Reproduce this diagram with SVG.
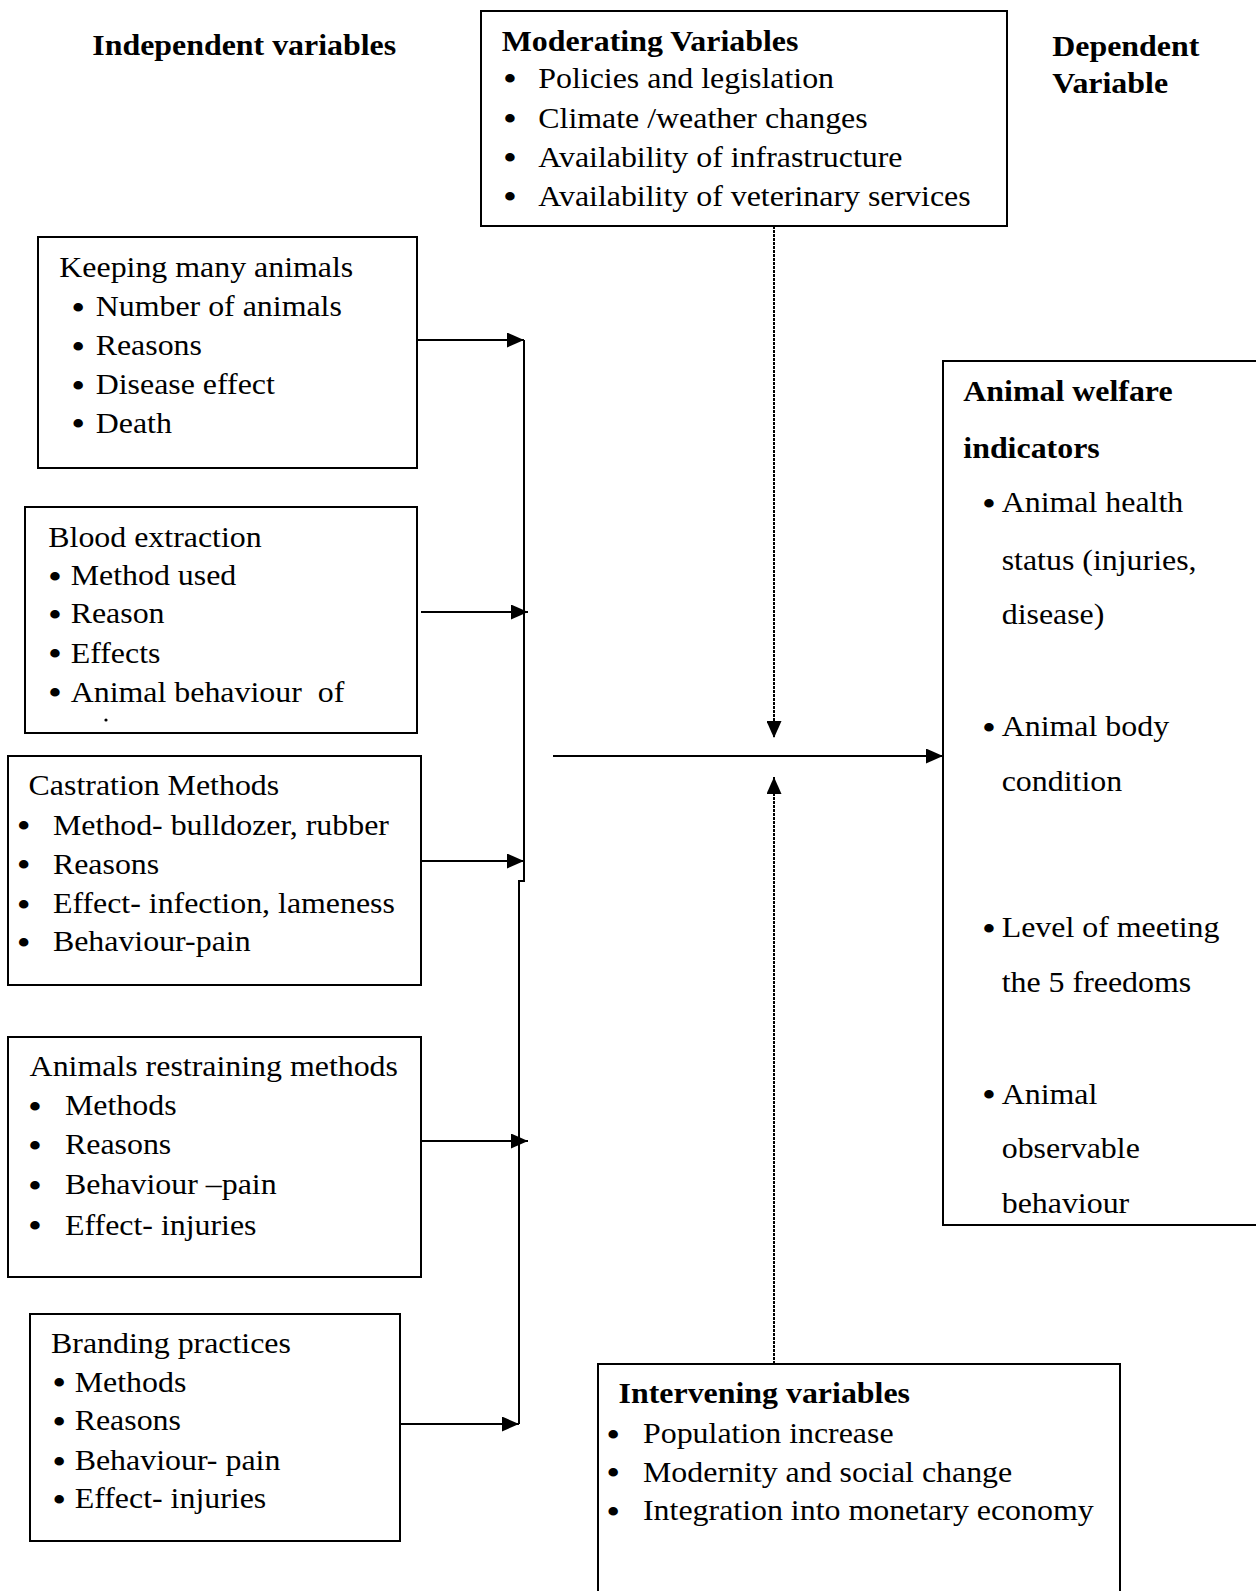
<svg xmlns="http://www.w3.org/2000/svg" width="1256" height="1591" viewBox="0 0 1256 1591">
<style>
.box{fill:none;stroke:#000;stroke-width:2}
.t{font-family:"Liberation Serif","Times New Roman",serif;font-size:29px;fill:#000}
.b{font-weight:bold}
.bl{text-anchor:middle;font-size:36px}
.conn{fill:none;stroke:#000;stroke-width:2}
.dot{stroke-dasharray:3 1}
</style>
<defs>
<marker id="ah" markerUnits="userSpaceOnUse" markerWidth="17" markerHeight="15" refX="17" refY="7.5" orient="auto">
<path d="M0,0 L17,7.5 L0,15 z" fill="#000"/>
</marker>
</defs>
<rect width="1256" height="1591" fill="#fff"/>

<g id="heading-independent">
<text class="t b" transform="matrix(1.1 0 0 1 92.3 55)">Independent variables</text>
</g>
<g id="heading-dependent">
<text class="t b" transform="matrix(1.1 0 0 1 1052.3 55.7)">Dependent</text>
<text class="t b" transform="matrix(1.1 0 0 1 1052.3 93.3)">Variable</text>
</g>

<g id="moderating">
<rect class="box" x="481" y="11" width="526" height="215"/>
<text class="t b" transform="matrix(1.1 0 0 1 501.7 50.5)">Moderating Variables</text>
<text class="t bl" transform="matrix(1.1 0 0 1 510 91)">•</text>
<text class="t" transform="matrix(1.1 0 0 1 538.3 87.5)">Policies and legislation</text>
<text class="t bl" transform="matrix(1.1 0 0 1 510 131)">•</text>
<text class="t" transform="matrix(1.1 0 0 1 538.3 127.5)">Climate /weather changes</text>
<text class="t bl" transform="matrix(1.1 0 0 1 510 170)">•</text>
<text class="t" transform="matrix(1.1 0 0 1 538.3 166.5)">Availability of infrastructure</text>
<text class="t bl" transform="matrix(1.1 0 0 1 510 209)">•</text>
<text class="t" transform="matrix(1.1 0 0 1 538.3 205.5)">Availability of veterinary services</text>
</g>

<g id="keeping">
<rect class="box" x="38" y="237" width="379" height="231"/>
<text class="t" transform="matrix(1.1 0 0 1 59.3 276.7)">Keeping many animals</text>
<text class="t bl" transform="matrix(1.1 0 0 1 78.3 319.5)">•</text>
<text class="t" transform="matrix(1.1 0 0 1 95.7 316)">Number of animals</text>
<text class="t bl" transform="matrix(1.1 0 0 1 78.3 358.5)">•</text>
<text class="t" transform="matrix(1.1 0 0 1 95.7 355)">Reasons</text>
<text class="t bl" transform="matrix(1.1 0 0 1 78.3 397.8)">•</text>
<text class="t" transform="matrix(1.1 0 0 1 95.7 394.3)">Disease effect</text>
<text class="t bl" transform="matrix(1.1 0 0 1 78.3 436.2)">•</text>
<text class="t" transform="matrix(1.1 0 0 1 95.7 432.7)">Death</text>
</g>

<g id="blood">
<rect class="box" x="25" y="507" width="392" height="226"/>
<text class="t" transform="matrix(1.1 0 0 1 48.3 546.7)">Blood extraction</text>
<text class="t bl" transform="matrix(1.1 0 0 1 55 588.5)">•</text>
<text class="t" transform="matrix(1.1 0 0 1 70.7 585)">Method used</text>
<text class="t bl" transform="matrix(1.1 0 0 1 55 626.8)">•</text>
<text class="t" transform="matrix(1.1 0 0 1 70.7 623.3)">Reason</text>
<text class="t bl" transform="matrix(1.1 0 0 1 55 666.2)">•</text>
<text class="t" transform="matrix(1.1 0 0 1 70.7 662.7)">Effects</text>
<text class="t bl" transform="matrix(1.1 0 0 1 55 705.2)">•</text>
<text class="t" xml:space="preserve" transform="matrix(1.1 0 0 1 70.7 701.7)">Animal behaviour  of</text>
<circle cx="106" cy="720" r="1.6" fill="#000"/>
</g>

<g id="castration">
<rect class="box" x="8" y="756" width="413" height="229"/>
<text class="t" transform="matrix(1.1 0 0 1 28.6 795.4)">Castration Methods</text>
<text class="t bl" transform="matrix(1.1 0 0 1 23.6 838.1)">•</text>
<text class="t" transform="matrix(1.1 0 0 1 52.9 834.6)">Method- bulldozer, rubber</text>
<text class="t bl" transform="matrix(1.1 0 0 1 23.6 877.4)">•</text>
<text class="t" transform="matrix(1.1 0 0 1 52.9 873.9)">Reasons</text>
<text class="t bl" transform="matrix(1.1 0 0 1 23.6 916.7)">•</text>
<text class="t" transform="matrix(1.1 0 0 1 52.9 913.2)">Effect- infection, lameness</text>
<text class="t bl" transform="matrix(1.1 0 0 1 23.6 954.9)">•</text>
<text class="t" transform="matrix(1.1 0 0 1 52.9 951.4)">Behaviour-pain</text>
</g>

<g id="restraining">
<rect class="box" x="8" y="1037" width="413" height="240"/>
<text class="t" transform="matrix(1.1 0 0 1 29.6 1076.4)">Animals restraining methods</text>
<text class="t bl" transform="matrix(1.1 0 0 1 35 1118.5)">•</text>
<text class="t" transform="matrix(1.1 0 0 1 65 1115)">Methods</text>
<text class="t bl" transform="matrix(1.1 0 0 1 35 1157.8)">•</text>
<text class="t" transform="matrix(1.1 0 0 1 65 1154.3)">Reasons</text>
<text class="t bl" transform="matrix(1.1 0 0 1 35 1197.8)">•</text>
<text class="t" transform="matrix(1.1 0 0 1 65 1194.3)">Behaviour –pain</text>
<text class="t bl" transform="matrix(1.1 0 0 1 35 1238.1)">•</text>
<text class="t" transform="matrix(1.1 0 0 1 65 1234.6)">Effect- injuries</text>
</g>

<g id="branding">
<rect class="box" x="30" y="1314" width="370" height="227"/>
<text class="t" transform="matrix(1.1 0 0 1 51 1352.7)">Branding practices</text>
<text class="t bl" transform="matrix(1.1 0 0 1 59.2 1395.2)">•</text>
<text class="t" transform="matrix(1.1 0 0 1 74.7 1391.7)">Methods</text>
<text class="t bl" transform="matrix(1.1 0 0 1 59.2 1433.5)">•</text>
<text class="t" transform="matrix(1.1 0 0 1 74.7 1430)">Reasons</text>
<text class="t bl" transform="matrix(1.1 0 0 1 59.2 1473.5)">•</text>
<text class="t" transform="matrix(1.1 0 0 1 74.7 1470)">Behaviour- pain</text>
<text class="t bl" transform="matrix(1.1 0 0 1 59.2 1511.8)">•</text>
<text class="t" transform="matrix(1.1 0 0 1 74.7 1508.3)">Effect- injuries</text>
</g>

<g id="welfare">
<rect class="box" x="943" y="361" width="400" height="864"/>
<text class="t b" transform="matrix(1.1 0 0 1 963.3 401.4)">Animal welfare</text>
<text class="t b" transform="matrix(1.1 0 0 1 963.3 457.7)">indicators</text>
<text class="t bl" transform="matrix(1.1 0 0 1 989 515.7)">•</text>
<text class="t" transform="matrix(1.1 0 0 1 1001.7 512.2)">Animal health</text>
<text class="t" transform="matrix(1.1 0 0 1 1001.7 569.6)">status (injuries,</text>
<text class="t" transform="matrix(1.1 0 0 1 1001.7 624)">disease)</text>
<text class="t bl" transform="matrix(1.1 0 0 1 989 739.5)">•</text>
<text class="t" transform="matrix(1.1 0 0 1 1001.7 736)">Animal body</text>
<text class="t" transform="matrix(1.1 0 0 1 1001.7 790.6)">condition</text>
<text class="t bl" transform="matrix(1.1 0 0 1 989 940.5)">•</text>
<text class="t" transform="matrix(1.1 0 0 1 1001.7 937)">Level of meeting</text>
<text class="t" transform="matrix(1.1 0 0 1 1001.7 991.6)">the 5 freedoms</text>
<text class="t bl" transform="matrix(1.1 0 0 1 989 1107)">•</text>
<text class="t" transform="matrix(1.1 0 0 1 1001.7 1103.5)">Animal</text>
<text class="t" transform="matrix(1.1 0 0 1 1001.7 1158)">observable</text>
<text class="t" transform="matrix(1.1 0 0 1 1001.7 1212.6)">behaviour</text>
</g>

<g id="intervening">
<rect class="box" x="598" y="1364" width="522" height="300"/>
<text class="t b" transform="matrix(1.1 0 0 1 618.6 1403.3)">Intervening variables</text>
<text class="t bl" transform="matrix(1.1 0 0 1 613.3 1446.8)">•</text>
<text class="t" transform="matrix(1.1 0 0 1 643 1443.3)">Population increase</text>
<text class="t bl" transform="matrix(1.1 0 0 1 613.3 1485.2)">•</text>
<text class="t" transform="matrix(1.1 0 0 1 643 1481.7)">Modernity and social change</text>
<text class="t bl" transform="matrix(1.1 0 0 1 613.3 1523.5)">•</text>
<text class="t" transform="matrix(1.1 0 0 1 643 1520)">Integration into monetary economy</text>
</g>

<g id="connectors">
<path class="conn" d="M524,340 V881 H519 V1424"/>
<path class="conn" d="M417,340 H524" marker-end="url(#ah)"/>
<path class="conn" d="M421,612 H528" marker-end="url(#ah)"/>
<path class="conn" d="M421,861 H524" marker-end="url(#ah)"/>
<path class="conn" d="M421,1141 H528" marker-end="url(#ah)"/>
<path class="conn" d="M400,1424 H519" marker-end="url(#ah)"/>
<path class="conn" d="M553,756 H943" marker-end="url(#ah)"/>
<path class="conn dot" d="M774,226 V738" marker-end="url(#ah)"/>
<path class="conn dot" d="M774,1364 V777" marker-end="url(#ah)"/>
</g>
</svg>
